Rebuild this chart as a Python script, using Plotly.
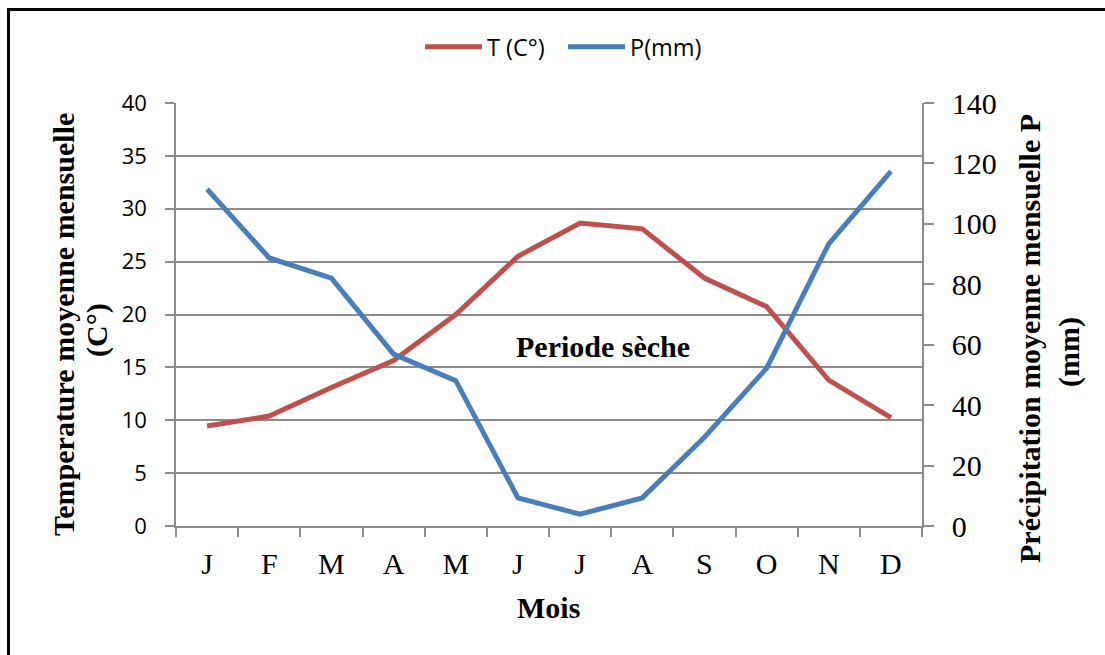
import plotly.graph_objects as go

months = ["J", "F", "M", "A", "M ", "J ", "J  ", "A ", "S", "O", "N", "D"]
month_labels = ["J", "F", "M", "A", "M", "J", "J", "A", "S", "O", "N", "D"]
temperature = [9.45, 10.4, 13.1, 15.65, 20.0, 25.5, 28.65, 28.1, 23.45, 20.75, 13.8, 10.25]
precipitation = [111.5, 88.7, 82.0, 56.9, 48.1, 9.3, 3.9, 9.3, 29.4, 52.2, 93.4, 117.4]

RED = "#C0504D"
BLUE = "#4A7EBB"
GRID = "#8c8c8c"
SERIF = "Liberation Serif, Times New Roman, serif"
SANS = "Open Sans, Noto Sans, sans-serif"

W, H = 1105, 655
ML, MR, MT, MB = 176, 183, 103, 129
PW, PH = W - ML - MR, H - MT - MB


def px(x):
    return (x - ML) / PW


def py(y):
    return (H - MB - y) / PH


fig = go.Figure()
fig.add_trace(go.Scatter(x=months, y=temperature, name="T (C°)", mode="lines",
                         line=dict(color=RED, width=5), yaxis="y"))
fig.add_trace(go.Scatter(x=months, y=precipitation, name="P(mm)", mode="lines",
                         line=dict(color=BLUE, width=5), yaxis="y2"))

fig.update_layout(
    width=W, height=H,
    margin=dict(l=ML, r=MR, t=MT, b=MB, pad=0),
    paper_bgcolor="white", plot_bgcolor="white",
    showlegend=True,
    legend=dict(orientation="h", x=px(420), y=py(47), xanchor="left", yanchor="middle",
                font=dict(family=SANS, size=23.5, color="black"), bgcolor="rgba(0,0,0,0)",
                itemwidth=57, entrywidth=71, entrywidthmode="pixels"),
    xaxis=dict(
        type="category", categoryorder="array", categoryarray=months,
        tickmode="array", tickvals=months, ticktext=month_labels,
        tickson="boundaries", ticks="outside", ticklen=9, tickwidth=1.5, tickcolor=GRID,
        showline=True, linecolor=GRID, linewidth=1.5, showgrid=False,
        tickfont=dict(family=SERIF, size=30, color="black"), ticklabelstandoff=10,
        range=[-0.5, 11.5],
    ),
    yaxis=dict(
        range=[0, 40], dtick=5, tick0=0,
        ticks="outside", ticklen=9, tickwidth=1.5, tickcolor=GRID,
        showline=True, linecolor=GRID, linewidth=1.5,
        showgrid=True, gridcolor=GRID, gridwidth=1.5, zeroline=False,
        tickfont=dict(family=SANS, size=22, color="black"), ticklabelstandoff=14,
    ),
    yaxis2=dict(
        range=[0, 140], dtick=20, tick0=0, overlaying="y", side="right",
        ticks="outside", ticklen=10, tickwidth=1.5, tickcolor=GRID,
        showline=True, linecolor=GRID, linewidth=1.5,
        showgrid=False, zeroline=False,
        tickfont=dict(family=SERIF, size=30, color="black"), ticklabelstandoff=12,
    ),
)

ann_font = dict(family=SERIF, size=30, color="black")
annotations = [
    dict(text="<b>Mois</b>", x=px(548), y=py(607)),
    dict(text="<b>Periode sèche</b>", x=px(603), y=py(346)),
    dict(text="<b>Temperature moyenne mensuelle</b>", x=px(63), y=py(325), textangle=-90),
    dict(text="<b>(C°)</b>", x=px(97), y=py(330), textangle=-90),
    dict(text="<b>Précipitation moyenne mensuelle P</b>", x=px(1029), y=py(339), textangle=-90),
    dict(text="<b>(mm)</b>", x=px(1069), y=py(352), textangle=-90),
]
for a in annotations:
    fig.add_annotation(xref="paper", yref="paper", xanchor="center", yanchor="middle",
                       showarrow=False, font=ann_font, **a)

fig.add_shape(type="rect", xref="paper", yref="paper",
              x0=px(8.5), x1=px(1120), y0=py(9.5), y1=py(680),
              line=dict(color="black", width=3), fillcolor="rgba(0,0,0,0)", layer="above")

fig.write_html("out.html")
